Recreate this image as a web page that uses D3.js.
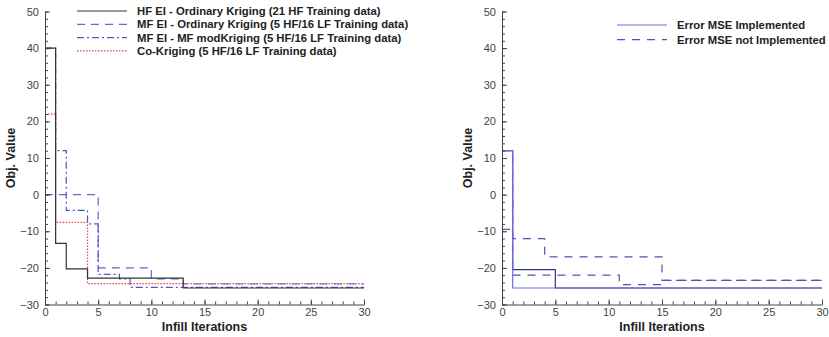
<!DOCTYPE html>
<html><head><meta charset="utf-8">
<script src="https://cdn.jsdelivr.net/npm/d3@7"></script>
<style>
body{margin:0;background:#fff;}
svg{display:block;font-family:"Liberation Sans",Arial,sans-serif;}
</style></head>
<body><svg id="c" width="829" height="337"></svg>
<script>
// ---- data ----
const xTicks = [0,5,10,15,20,25,30];
const yTicks = [-30,-20,-10,0,10,20,30,40,50];
const xTitle = "Infill Iterations";
const yTitle = "Obj. Value";

// left panel series (step after)
const hfIter = [0,1,2,4,13,30];
const hfVal  = [40,-13.3,-20.3,-22.8,-25.5,-25.5];
const mfOkIter = [0,5,10,13,30];
const mfOkVal  = [0,-20,-23,-24.4,-24.4];
const mfModIter = [0,1,2,4,5,7,8,30];
const mfModVal  = [40,12,-4.3,-8,-21.8,-23,-25.3,-25.3];
const coIter = [0,1,4,30];
const coVal  = [22,-7.6,-24.3,-24.3];
const leftNames = [
  "HF EI  - Ordinary Kriging (21 HF Training data)",
  "MF EI - Ordinary Kriging (5 HF/16 LF Training data)",
  "MF EI - MF modKriging (5 HF/16 LF Training data)",
  "Co-Kriging (5 HF/16 LF Training data)"
];

// right panel series
const implAIter = [0,1,30];
const implAVal  = [12,-25.5,-25.5];
const implBIter = [0,1,5,30];
const implBVal  = [12,-20.5,-25.5,-25.5];
const notAIter = [0,1,4,15,30];
const notAVal  = [-9.5,-12,-17,-23.4,-23.4];
const notBIter = [0,1,11,15,30];
const notBVal  = [12,-22,-24.6,-23.4,-23.4];
const rightNames = ["Error MSE Implemented","Error MSE not Implemented"];

// ---- drawing ----
const svg = d3.select("#c");
svg.append("rect").attr("width",829).attr("height",337).attr("fill","#fff");

const zip = (xs,ys)=>xs.map((x,i)=>[x,ys[i]]);

function panel(x0,x1,series,legend){
  const x = d3.scaleLinear().domain([0,30]).range([x0,x1]);
  const y = d3.scaleLinear().domain([-30,50]).range([304.5,11.5]);
  const g = svg.append("g");
  const line = d3.line().x(d=>x(d[0])).y(d=>y(d[1])).curve(d3.curveStepAfter);
  series.forEach(s=>{
    g.append("path").datum(zip(s.it,s.v)).attr("d",line)
      .attr("fill","none").attr("stroke",s.color).attr("stroke-width",s.w||1.2)
      .attr("stroke-dasharray",s.dash||null);
  });
  // minor ticks
  const xm = g.append("g").attr("transform",`translate(0,${y(-30)})`)
    .call(d3.axisBottom(x).tickValues(d3.range(0,31,1)).tickSize(-3).tickFormat(""));
  xm.select(".domain").remove();
  const ym = g.append("g").attr("transform",`translate(${x(0)},0)`)
    .call(d3.axisLeft(y).tickValues(d3.range(-30,51,2)).tickSize(-3).tickFormat(""));
  ym.select(".domain").remove();
  // major
  const xa = g.append("g").attr("transform",`translate(0,${y(-30)})`)
    .call(d3.axisBottom(x).tickValues(xTicks).tickSize(-5).tickSizeOuter(0).tickPadding(4));
  const ya = g.append("g").attr("transform",`translate(${x(0)},0)`)
    .call(d3.axisLeft(y).tickValues(yTicks).tickSize(-5).tickSizeOuter(0).tickPadding(6));
  [xa,ya,xm,ym].forEach(a=>{
    a.selectAll("line").attr("stroke","#444");
    a.selectAll(".domain").attr("stroke","#444");
    a.selectAll("text").attr("font-size",11).attr("fill","#444")
      .attr("font-family","Liberation Sans, Arial, sans-serif");
  });
  g.append("text").attr("x",(x0+x1)/2).attr("y",331).attr("text-anchor","middle")
    .attr("font-weight","bold").attr("font-size",12.5).attr("fill","#222").text(xTitle);
  g.append("text").attr("transform",`translate(${x0-30},${(y(50)+y(-30))/2}) rotate(-90)`)
    .attr("text-anchor","middle").attr("font-weight","bold").attr("font-size",12.5)
    .attr("fill","#222").text(yTitle);
  // legend
  legend.items.forEach((it,i)=>{
    const yy = legend.y + i*legend.dy;
    g.append("line").attr("x1",legend.x).attr("x2",legend.x+50).attr("y1",yy).attr("y2",yy)
      .attr("stroke",it.color).attr("stroke-width",1.2).attr("stroke-dasharray",it.dash||null);
    g.append("text").attr("x",legend.x+60).attr("y",yy+3.9).attr("font-size",11.3)
      .attr("font-weight","bold").attr("fill","#222").text(it.name);
  });
}

const cHF="#333333", cOK="#6464dc", cMod="#5252c4", cCo="#e04848";
panel(45,364,[
  {it:coIter,v:coVal,color:cCo,dash:"1.5,1.5"},
  {it:mfOkIter,v:mfOkVal,color:cOK,dash:"8,6"},
  {it:mfModIter,v:mfModVal,color:cMod,dash:"7,3,2,3"},
  {it:hfIter,v:hfVal,color:cHF}
],{x:77,y:11,dy:13.3,items:[
  {name:leftNames[0],color:cHF},
  {name:leftNames[1],color:cOK,dash:"8,6"},
  {name:leftNames[2],color:cMod,dash:"7,3,2,3"},
  {name:leftNames[3],color:cCo,dash:"1.5,1.5"}
]});

const cImpl="#6e6ee8", cImplB="#34347e", cNot="#5252b8";
panel(502,822,[
  {it:notAIter,v:notAVal,color:cNot,dash:"8,7"},
  {it:notBIter,v:notBVal,color:cNot,dash:"8,7"},
  {it:implBIter,v:implBVal,color:cImplB},
  {it:implAIter,v:implAVal,color:cImpl}
],{x:617,y:25,dy:14.7,items:[
  {name:rightNames[0],color:cImpl},
  {name:rightNames[1],color:cNot,dash:"8,7"}
]});
</script></body></html>
